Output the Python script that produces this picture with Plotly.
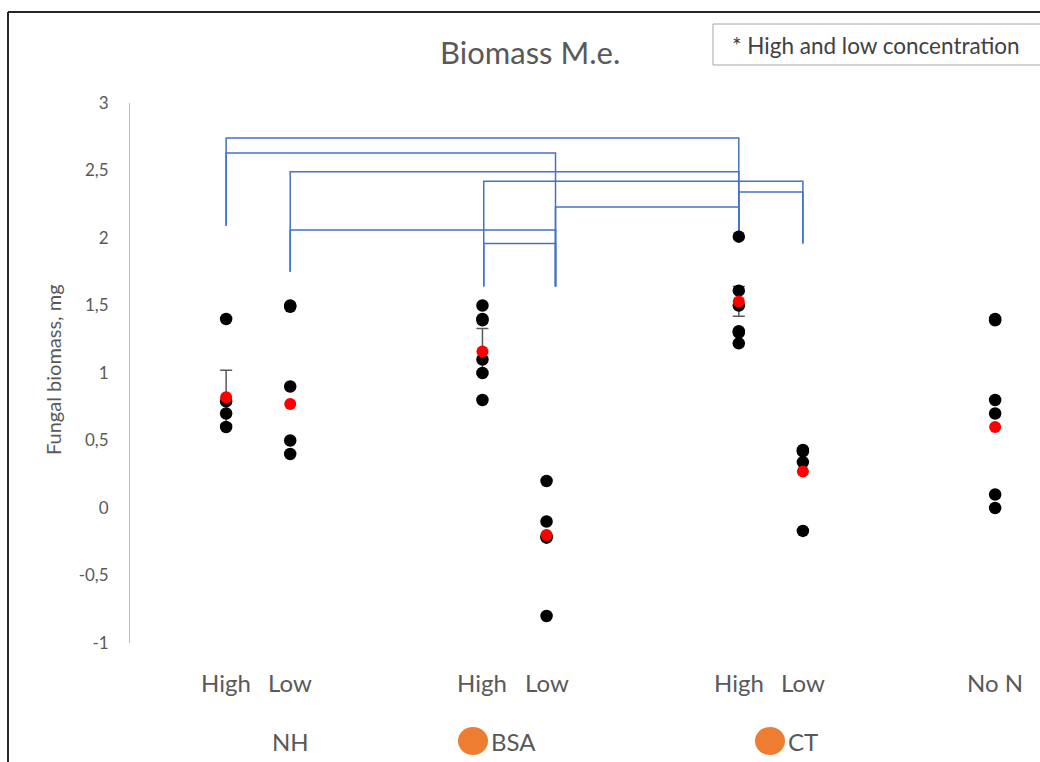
import plotly.graph_objects as go

# ---------------- data ----------------
categories = ["NH High", "NH Low", "BSA High", "BSA Low", "CT High", "CT Low", "No N"]
cat_labels = ["High", "Low", "High", "Low", "High", "Low", "No N"]
cat_pos = [0, 1, 4, 5, 8, 9, 12]

y_ticks = [3, 2.5, 2, 1.5, 1, 0.5, 0, -0.5, -1]
y_tick_text = ["3", "2,5", "2", "1,5", "1", "0,5", "0", "-0,5", "-1"]

nh_high = [1.40, 0.79, 0.70, 0.60]
nh_low = [1.50, 1.49, 0.90, 0.50, 0.40]
bsa_high = [1.50, 1.40, 1.39, 1.10, 1.00, 0.80]
bsa_low = [0.20, -0.10, -0.21, -0.22, -0.80]
ct_high = [2.01, 1.61, 1.50, 1.31, 1.30, 1.22]
ct_low = [0.43, 0.42, 0.34, -0.17]
no_n = [1.40, 1.39, 0.80, 0.70, 0.10, 0.00]
replicates = [nh_high, nh_low, bsa_high, bsa_low, ct_high, ct_low, no_n]

means = [0.82, 0.77, 1.16, -0.20, 1.53, 0.27, 0.60]
sem = [0.20, None, 0.17, None, 0.11, None, None]

# significance brackets: (left group, right group, bar height, left leg end, right leg end)
bracket_anchor = [0, 1, 4.02, 5.14, 8, 9, 12]
brackets = [
    (0, 4, 2.74, 2.09, 2.02),
    (0, 3, 2.63, 2.09, 1.64),
    (1, 4, 2.49, 1.75, 2.02),
    (2, 5, 2.42, 1.64, 1.96),
    (4, 5, 2.34, 2.02, 1.96),
    (3, 4, 2.23, 1.64, 2.02),
    (1, 3, 2.06, 1.75, 1.64),
    (2, 3, 1.96, 1.64, 1.64),
]

legend_names = ["NH", "BSA", "CT"]
legend_has_marker = [False, True, True]

title_text = "Biomass M.e."
note_text = "* High and low concentration"
y_title = "Fungal biomass, mg"

# ---------------- layout helpers ----------------
W, H = 1040, 762
ML, MR, MT, MB = 130, 0, 103, 119
PW, PH = W - ML - MR, H - MT - MB


def px_x(p):
    return (p - ML) / PW


def px_y(p):
    return (H - MB - p) / PH


FONT = "Lato"
TXT = "#595959"

fig = go.Figure()

# brackets
bx, by = [], []
for li, ri, top, lb, rb in brackets:
    xl, xr = bracket_anchor[li], bracket_anchor[ri]
    bx += [xl, xl, xr, xr, None]
    by += [lb, top, top, rb, None]
fig.add_trace(go.Scatter(x=bx, y=by, mode="lines", line=dict(color="#4472C4", width=1.5),
                         hoverinfo="skip", showlegend=False, cliponaxis=False))

# error bars (drawn beneath the points)
ex = [cat_pos[i] for i in range(len(sem)) if sem[i] is not None]
ey = [means[i] for i in range(len(sem)) if sem[i] is not None]
ee = [sem[i] for i in range(len(sem)) if sem[i] is not None]
fig.add_trace(go.Scatter(x=ex, y=ey, mode="markers",
                         marker=dict(size=1, color="rgba(0,0,0,0)"),
                         error_y=dict(type="data", array=ee, color="#595959", thickness=1.5, width=6),
                         hoverinfo="skip", showlegend=False, cliponaxis=False))

# replicate points
rx, ry = [], []
for pos, vals in zip(cat_pos, replicates):
    rx += [pos] * len(vals)
    ry += vals
fig.add_trace(go.Scatter(x=rx, y=ry, mode="markers",
                         marker=dict(size=12.5, color="#000000"),
                         showlegend=False, cliponaxis=False))

# means
fig.add_trace(go.Scatter(x=cat_pos, y=means, mode="markers",
                         marker=dict(size=12, color="#FF0000"),
                         showlegend=False, cliponaxis=False))

annotations = []
shapes = []

# title
annotations.append(dict(x=px_x(530), y=px_y(52), xref="paper", yref="paper", text=title_text,
                        showarrow=False, xanchor="center", yanchor="middle",
                        font=dict(family=FONT, size=31, color=TXT)))
# note box
shapes.append(dict(type="rect", xref="paper", yref="paper", x0=px_x(713), x1=px_x(1060),
                   y0=px_y(65), y1=px_y(24), line=dict(color="#A6A6A6", width=1), fillcolor="white"))
annotations.append(dict(x=px_x(730), y=px_y(46), xref="paper", yref="paper", text=note_text,
                        showarrow=False, xanchor="left", yanchor="middle",
                        font=dict(family=FONT, size=22.5, color="#404040")))
# y title
annotations.append(dict(x=px_x(53), y=px_y(370), xref="paper", yref="paper", text=y_title,
                        showarrow=False, textangle=-90, xanchor="center", yanchor="middle",
                        font=dict(family=FONT, size=20, color=TXT)))
# category labels
for pos, lab in zip(cat_pos, cat_labels):
    annotations.append(dict(x=pos, y=px_y(682), xref="x", yref="paper", text=lab,
                            showarrow=False, xanchor="center", yanchor="middle",
                            font=dict(family=FONT, size=24, color=TXT)))
# group legend row
legend_marker_px = [None, 473, 770]
legend_text_px = [290, 489, 786]
for name, has_m, mpx, tpx in zip(legend_names, legend_has_marker, legend_marker_px, legend_text_px):
    if has_m:
        shapes.append(dict(type="circle", xref="paper", yref="paper",
                           x0=px_x(mpx - 15), x1=px_x(mpx + 15),
                           y0=px_y(755), y1=px_y(727),
                           fillcolor="#ED7D31", line=dict(width=0)))
        annotations.append(dict(x=px_x(tpx), y=px_y(741), xref="paper", yref="paper", text=name,
                                showarrow=False, xanchor="left", yanchor="middle",
                                font=dict(family=FONT, size=24, color=TXT)))
    else:
        annotations.append(dict(x=px_x(tpx), y=px_y(741), xref="paper", yref="paper", text=name,
                                showarrow=False, xanchor="center", yanchor="middle",
                                font=dict(family=FONT, size=24, color=TXT)))

# outer frame (top and left edges visible)
shapes.append(dict(type="line", xref="paper", yref="paper", x0=px_x(8), x1=px_x(1060),
                   y0=px_y(12), y1=px_y(12), line=dict(color="#262626", width=2)))
shapes.append(dict(type="line", xref="paper", yref="paper", x0=px_x(8), x1=px_x(8),
                   y0=px_y(12), y1=px_y(780), line=dict(color="#262626", width=2)))

fig.update_layout(
    width=W, height=H,
    margin=dict(l=ML, r=MR, t=MT, b=MB),
    paper_bgcolor="white", plot_bgcolor="white",
    showlegend=False,
    annotations=annotations, shapes=shapes,
    font=dict(family=FONT, color=TXT),
)
fig.update_xaxes(range=[-1.5, 12.7], showgrid=False, zeroline=False, showline=False,
                 showticklabels=False, ticks="")
fig.update_yaxes(range=[-1, 3], tickvals=y_ticks, ticktext=y_tick_text,
                 showgrid=False, zeroline=False, showline=True, linecolor="#BFBFBF", linewidth=1,
                 ticks="", ticklabelstandoff=17,
                 tickfont=dict(family=FONT, size=17, color=TXT))

fig.write_html("out.html")
